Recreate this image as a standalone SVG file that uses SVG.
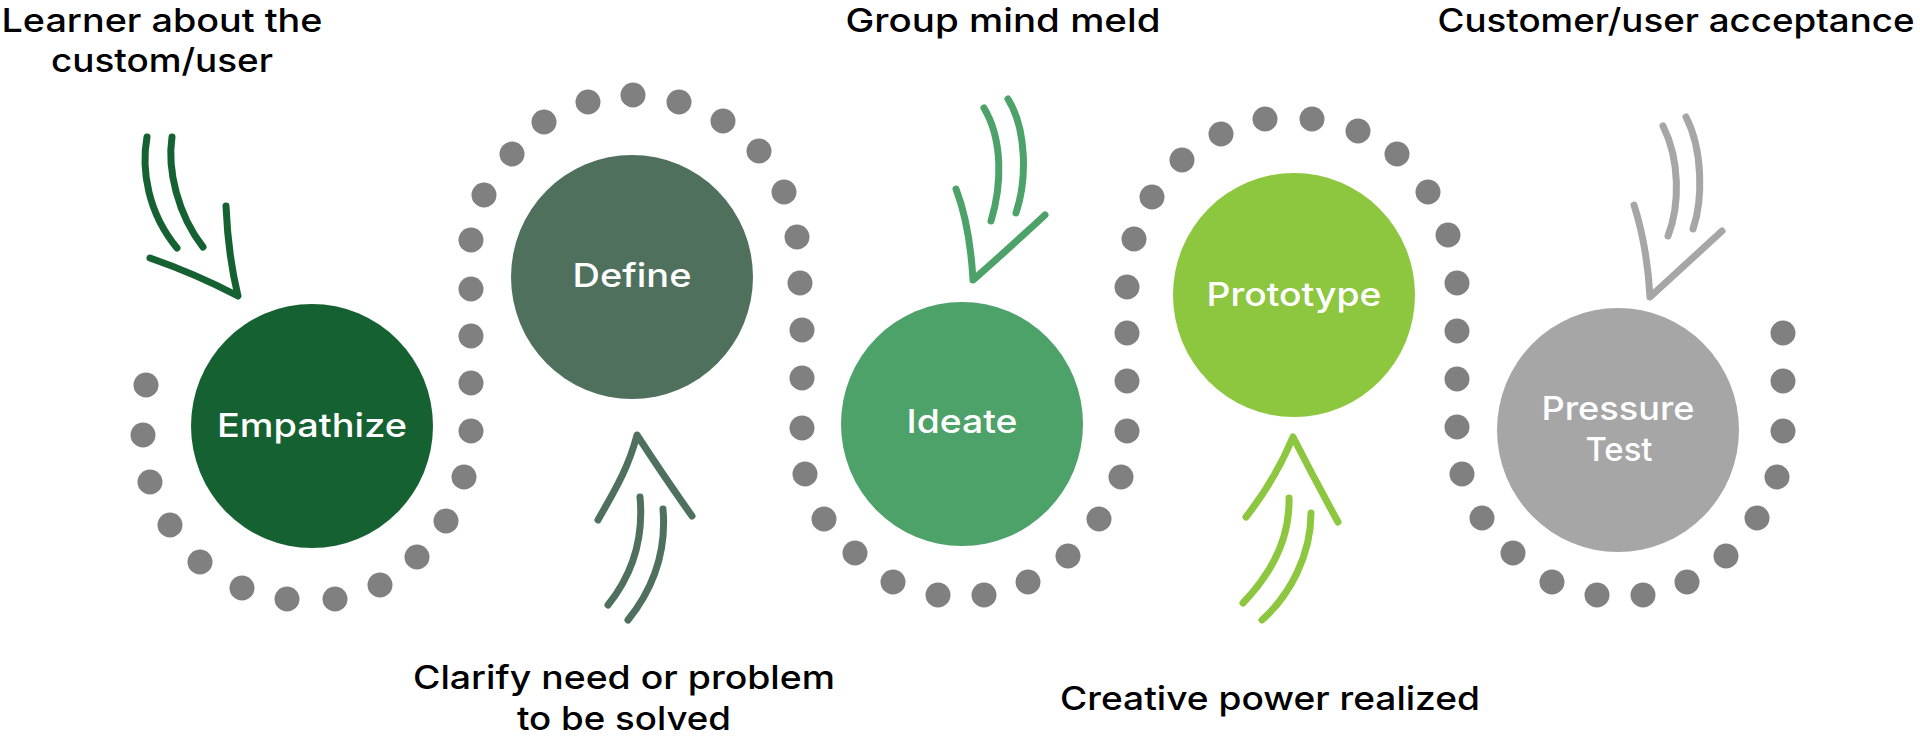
<svg xmlns="http://www.w3.org/2000/svg" width="1920" height="741" viewBox="0 0 1920 741">
<style>
.cap{font-family:Inter,"Open Sans","Noto Sans",sans-serif;font-weight:500;font-size:33px;fill:#000;text-anchor:middle}
.lbl{font-family:Inter,"Open Sans","Noto Sans",sans-serif;font-weight:500;font-size:33px;fill:#fff;text-anchor:middle}
.dot{fill:#808080}
.arr{fill:none;stroke-width:7;stroke-linecap:round;stroke-linejoin:round}
</style>
<rect width="1920" height="741" fill="#fff"/>
<g id="dots">
<circle class="dot" cx="146" cy="385" r="12.5"/><circle class="dot" cx="143" cy="435" r="12.5"/><circle class="dot" cx="150" cy="482" r="12.5"/><circle class="dot" cx="170" cy="525" r="12.5"/><circle class="dot" cx="200" cy="562" r="12.5"/><circle class="dot" cx="242" cy="588" r="12.5"/><circle class="dot" cx="287" cy="599" r="12.5"/><circle class="dot" cx="335" cy="599" r="12.5"/><circle class="dot" cx="380" cy="585" r="12.5"/><circle class="dot" cx="417" cy="557" r="12.5"/><circle class="dot" cx="446" cy="521" r="12.5"/><circle class="dot" cx="464" cy="477" r="12.5"/>
<circle class="dot" cx="471" cy="431" r="12.5"/><circle class="dot" cx="471" cy="383" r="12.5"/><circle class="dot" cx="471" cy="336" r="12.5"/><circle class="dot" cx="471" cy="289" r="12.5"/><circle class="dot" cx="471" cy="240" r="12.5"/>
<circle class="dot" cx="484" cy="195" r="12.5"/><circle class="dot" cx="512" cy="154" r="12.5"/><circle class="dot" cx="544" cy="122" r="12.5"/><circle class="dot" cx="588" cy="102" r="12.5"/><circle class="dot" cx="633" cy="95" r="12.5"/><circle class="dot" cx="679" cy="102" r="12.5"/><circle class="dot" cx="723" cy="121" r="12.5"/><circle class="dot" cx="759" cy="151" r="12.5"/><circle class="dot" cx="784" cy="192" r="12.5"/>
<circle class="dot" cx="797" cy="237" r="12.5"/><circle class="dot" cx="800" cy="283" r="12.5"/><circle class="dot" cx="802" cy="330" r="12.5"/><circle class="dot" cx="802" cy="378" r="12.5"/><circle class="dot" cx="802" cy="428" r="12.5"/>
<circle class="dot" cx="805" cy="474" r="12.5"/><circle class="dot" cx="824" cy="519" r="12.5"/><circle class="dot" cx="855" cy="553" r="12.5"/><circle class="dot" cx="893" cy="582" r="12.5"/><circle class="dot" cx="938" cy="595" r="12.5"/><circle class="dot" cx="984" cy="595" r="12.5"/><circle class="dot" cx="1028" cy="582" r="12.5"/><circle class="dot" cx="1068" cy="556" r="12.5"/><circle class="dot" cx="1099" cy="519" r="12.5"/><circle class="dot" cx="1121" cy="477" r="12.5"/>
<circle class="dot" cx="1127" cy="431" r="12.5"/><circle class="dot" cx="1127" cy="381" r="12.5"/><circle class="dot" cx="1127" cy="333" r="12.5"/><circle class="dot" cx="1127" cy="287" r="12.5"/><circle class="dot" cx="1134" cy="239" r="12.5"/>
<circle class="dot" cx="1152" cy="197" r="12.5"/><circle class="dot" cx="1182" cy="160" r="12.5"/><circle class="dot" cx="1221" cy="134" r="12.5"/><circle class="dot" cx="1265" cy="119" r="12.5"/><circle class="dot" cx="1312" cy="119" r="12.5"/><circle class="dot" cx="1358" cy="131" r="12.5"/><circle class="dot" cx="1397" cy="154" r="12.5"/><circle class="dot" cx="1428" cy="192" r="12.5"/>
<circle class="dot" cx="1448" cy="235" r="12.5"/><circle class="dot" cx="1457" cy="283" r="12.5"/><circle class="dot" cx="1457" cy="331" r="12.5"/><circle class="dot" cx="1457" cy="379" r="12.5"/><circle class="dot" cx="1457" cy="427" r="12.5"/>
<circle class="dot" cx="1462" cy="474" r="12.5"/><circle class="dot" cx="1482" cy="518" r="12.5"/><circle class="dot" cx="1513" cy="553" r="12.5"/><circle class="dot" cx="1552" cy="582" r="12.5"/><circle class="dot" cx="1597" cy="595" r="12.5"/><circle class="dot" cx="1643" cy="595" r="12.5"/><circle class="dot" cx="1687" cy="582" r="12.5"/><circle class="dot" cx="1726" cy="556" r="12.5"/><circle class="dot" cx="1757" cy="518" r="12.5"/><circle class="dot" cx="1777" cy="477" r="12.5"/><circle class="dot" cx="1783" cy="431" r="12.5"/><circle class="dot" cx="1783" cy="381" r="12.5"/><circle class="dot" cx="1783" cy="333" r="12.5"/>
</g>
<g id="connectors">
<g stroke="#166132" class="arr">
<path d="M147,137 C141,170 148,213 177,248"/>
<path d="M172,137 C167,170 178,215 203,247"/>
<path d="M150,258 Q196,274 238,296 Q228,255 226,206"/>
</g>
<g stroke="#50705E" class="arr">
<path d="M598,520 C612,495 628,470 637,435 Q665,478 692,516"/>
<path d="M640,497 C644,540 632,575 608,605"/>
<path d="M663,509 C667,555 652,590 628,620"/>
</g>
<g stroke="#4CA268" class="arr">
<path d="M956,189 C966,215 971,245 973,280 Q1005,252 1045,215"/>
<path d="M984,108 C1003,140 1002,185 991,221"/>
<path d="M1008,99 C1027,130 1027,180 1016,213"/>
</g>
<g stroke="#8DC63F" class="arr">
<path d="M1246,517 Q1275,480 1293,437 Q1315,480 1338,522"/>
<path d="M1289,498 C1290,540 1270,575 1243,603"/>
<path d="M1311,513 C1311,555 1290,595 1262,620"/>
</g>
<g stroke="#A6A6A6" class="arr">
<path d="M1634,205 C1642,230 1648,260 1650,297 Q1685,265 1722,231"/>
<path d="M1663,126 C1680,160 1680,205 1668,236"/>
<path d="M1686,117 C1703,150 1703,200 1693,229"/>
</g>
</g>
<g id="empathize">
<ellipse cx="312" cy="426" rx="121" ry="122" fill="#166132"/>
<text class="lbl" x="312" y="437" textLength="190" lengthAdjust="spacingAndGlyphs">Empathize</text>
<text class="cap" x="162" y="32" textLength="321" lengthAdjust="spacingAndGlyphs">Learner about the</text>
<text class="cap" x="162" y="72" textLength="222" lengthAdjust="spacingAndGlyphs">custom/user</text>
</g>
<g id="define">
<ellipse cx="632" cy="277" rx="121" ry="122" fill="#50705E"/>
<text class="lbl" x="632" y="287" textLength="119" lengthAdjust="spacingAndGlyphs">Define</text>
<text class="cap" x="624" y="689" textLength="422" lengthAdjust="spacingAndGlyphs">Clarify need or problem</text>
<text class="cap" x="624" y="730" textLength="214" lengthAdjust="spacingAndGlyphs">to be solved</text>
</g>
<g id="ideate">
<ellipse cx="962" cy="424" rx="121" ry="122" fill="#4CA268"/>
<text class="lbl" x="962" y="433" textLength="111" lengthAdjust="spacingAndGlyphs">Ideate</text>
<text class="cap" x="1003" y="32" textLength="315" lengthAdjust="spacingAndGlyphs">Group mind meld</text>
</g>
<g id="prototype">
<ellipse cx="1294" cy="295" rx="121" ry="122" fill="#8DC63F"/>
<text class="lbl" x="1294" y="306" textLength="175" lengthAdjust="spacingAndGlyphs">Prototype</text>
<text class="cap" x="1270" y="710" textLength="420" lengthAdjust="spacingAndGlyphs">Creative power realized</text>
</g>
<g id="pressure-test">
<ellipse cx="1618" cy="430" rx="121" ry="122" fill="#A6A6A6"/>
<text class="lbl" x="1618" y="420" textLength="153" lengthAdjust="spacingAndGlyphs">Pressure</text>
<text class="lbl" x="1619" y="461" textLength="67" lengthAdjust="spacingAndGlyphs">Test</text>
<text class="cap" x="1676" y="32" textLength="477" lengthAdjust="spacingAndGlyphs">Customer/user acceptance</text>
</g>
</svg>
